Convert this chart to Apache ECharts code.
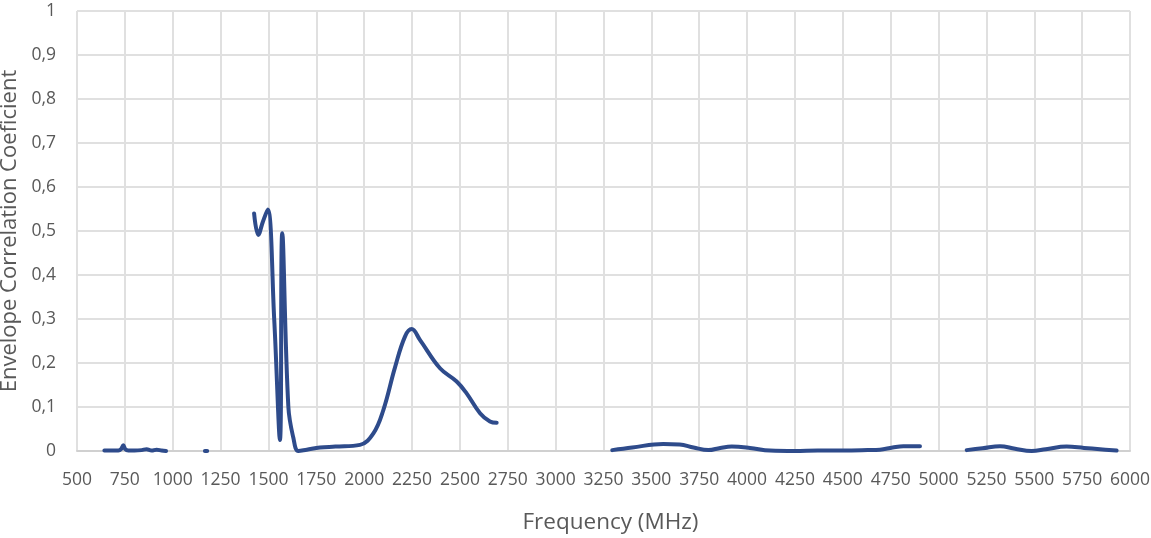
<!DOCTYPE html>
<html>
<head>
<meta charset="utf-8">
<script src="https://cdn.jsdelivr.net/npm/echarts@6/dist/echarts.min.js"></script>
<style>
html,body{margin:0;padding:0;background:#fff;}
#chart{width:1151px;height:538px;}
</style>
</head>
<body>
<div id="chart"></div>
<script>
// Frequency (MHz) and envelope correlation coefficient; null marks a gap
const freq = [
  643, 690, 716, 730, 742, 752, 768, 800, 838, 863, 890, 916, 942, 965, null,
  1168, 1180, null,
  1425, 1447, 1470, 1496, 1530, 1560, 1572, 1604, 1630, 1656, 1700, 1769, 1850, 1978, 2048, 2100, 2161, 2213, 2248, 2292, 2396, 2483, 2535, 2605, 2657, 2692, null,
  3296, 3400, 3562, 3648, 3720, 3798, 3860, 3920, 4015, 4120, 4250, 4370, 4500, 4630, 4694, 4760, 4816, 4903, null,
  5147, 5230, 5321, 5400, 5486, 5560, 5669, 5760, 5843, 5930
];
const ecc = [
  0.001, 0.001, 0.001, 0.004, 0.013, 0.004, 0.001, 0.001, 0.002, 0.004, 0.001, 0.003, 0.001, 0.0, null,
  0.0, 0.0, null,
  0.540, 0.491, 0.520, 0.549, 0.300, 0.025, 0.495, 0.100, 0.030, 0.0, 0.003, 0.008, 0.010, 0.014, 0.040, 0.093, 0.190, 0.260, 0.277, 0.252, 0.188, 0.158, 0.131, 0.086, 0.067, 0.064, null,
  0.002, 0.008, 0.016, 0.015, 0.008, 0.002, 0.007, 0.010, 0.007, 0.001, 0.0, 0.001, 0.001, 0.002, 0.003, 0.008, 0.011, 0.011, null,
  0.002, 0.006, 0.011, 0.005, 0.0, 0.004, 0.010, 0.007, 0.004, 0.001
];
const xTicks = { min: 500, max: 6000, step: 250 };
const yTicks = { min: 0, max: 1, step: 0.1 };
const xTitle = 'Frequency (MHz)';
const yTitle = 'Envelope Correlation Coeficient';

const seriesData = freq.map((f, i) => (f === null || ecc[i] === null) ? [null, null] : [f, ecc[i]]);

const chart = echarts.init(document.getElementById('chart'));
const labelFont = { color: '#595959', fontSize: 17.5, fontFamily: '"Open Sans", sans-serif' };
chart.setOption({
  animation: false,
  grid: { left: 77, right: 21, top: 11, bottom: 87, containLabel: false, outerBoundsMode: 'none' },
  xAxis: {
    type: 'value', min: xTicks.min, max: xTicks.max, interval: xTicks.step,
    name: xTitle, nameLocation: 'middle', nameGap: 60,
    nameTextStyle: { color: '#595959', fontSize: 22.5, fontFamily: '"Open Sans", sans-serif', padding: [0, 0, 0, 14] },
    axisLine: { show: true, lineStyle: { color: '#D0D0D0', width: 2 } },
    axisTick: { show: false },
    axisLabel: Object.assign({ margin: 20, showMinLabel: true, showMaxLabel: true, formatter: v => String(v) }, labelFont),
    splitLine: { show: true, lineStyle: { color: '#E0E0E0', width: 2 } }
  },
  yAxis: {
    type: 'value', min: yTicks.min, max: yTicks.max, interval: yTicks.step,
    name: yTitle, nameLocation: 'middle', nameGap: 47, nameRotate: 90,
    nameTextStyle: { color: '#595959', fontSize: 22, fontFamily: '"Open Sans", sans-serif' },
    axisLine: { show: false },
    axisTick: { show: false },
    axisLabel: Object.assign({ margin: 21, formatter: v => String(Math.round(v * 10) / 10).replace('.', ',') }, labelFont),
    splitLine: { show: true, lineStyle: { color: '#E0E0E0', width: 2 } }
  },
  series: [{
    type: 'line',
    data: seriesData,
    connectNulls: false,
    showSymbol: false,
    smooth: 0.4,
    lineStyle: { color: '#2E4B8B', width: 4, cap: 'round', join: 'round' },
    itemStyle: { color: '#2E4B8B' }
  }]
});
</script>
</body>
</html>
